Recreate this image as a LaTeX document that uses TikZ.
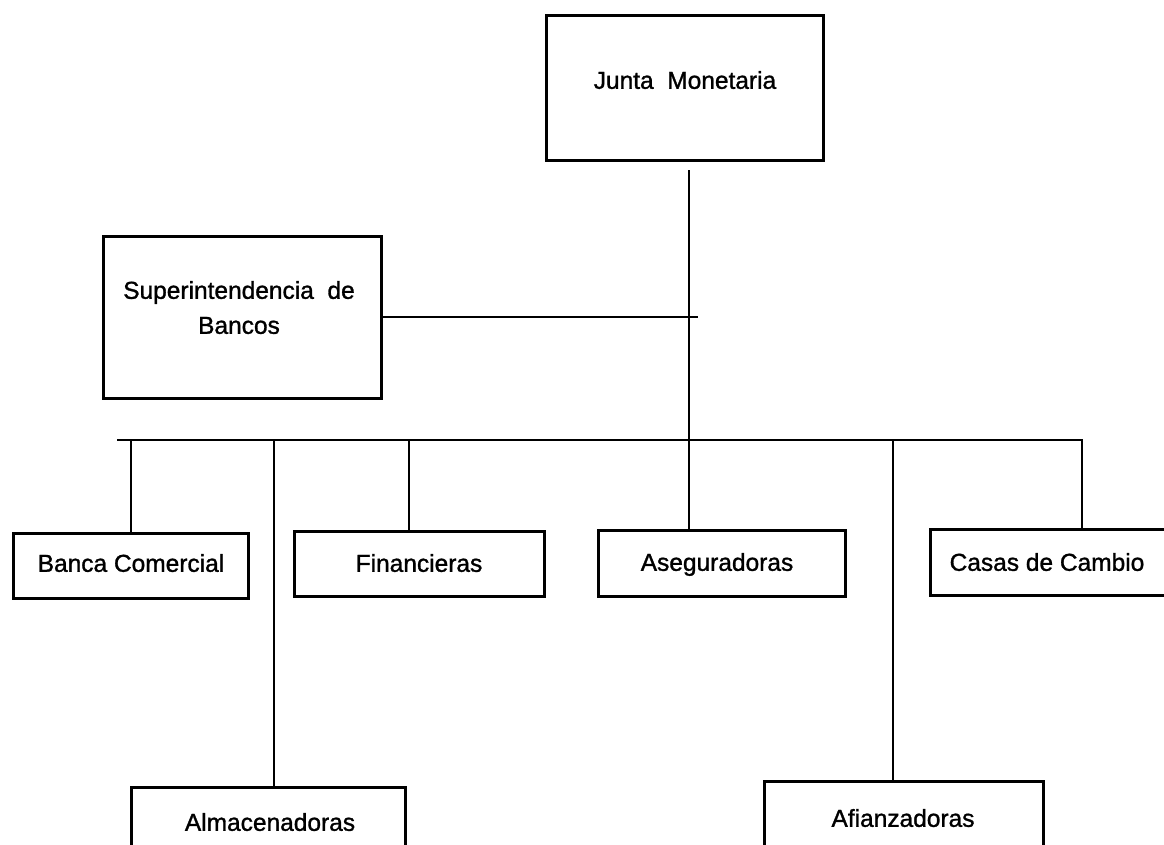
\documentclass[tikz,border=0pt]{standalone}
\usepackage{fontspec}
\setmainfont{Liberation Sans}[BoldFont=Liberation Sans, BoldFeatures={FakeBold=1.2}]
\begin{document}
\begin{tikzpicture}[x=1pt,y=-1pt,
  box/.style={draw=black, line width=3pt, rectangle, inner sep=0pt, fill=white},
  txt/.style={font=\fontsize{24.5}{35}\selectfont\bfseries, inner sep=0pt, text height=17.6pt, text depth=0pt, align=center},
  conn/.style={draw=black, line width=1.2pt}]
\useasboundingbox (0,0) rectangle (1164,844);
\fill[white] (0,0) rectangle (1164,844);
\clip (0,0) rectangle (1164,844);
% boxes
\node[box, minimum width=277pt, minimum height=145pt] (junta) at (685,88) {};
\node[box, minimum width=278pt, minimum height=162pt] (super) at (242.5,317.5) {};
\node[box, minimum width=235pt, minimum height=65pt] (banca) at (131,566) {};
\node[box, minimum width=250pt, minimum height=65pt] (finan) at (419.5,564) {};
\node[box, minimum width=247pt, minimum height=66pt] (aseg) at (722,563.5) {};
\node[box, minimum width=243pt, minimum height=66pt] (casas) at (1052,562.5) {};
\node[box, minimum width=274pt, minimum height=140pt] (alm) at (268.5,857.5) {};
\node[box, minimum width=279pt, minimum height=140pt] (afian) at (904,851.5) {};
% texts
\node[txt] (juntaT) at (685,80) {Junta\ \ Monetaria};
\node[txt] (superT) at (239,290) {Superintendencia\ \ de};
\node[txt] (superT2) at (239,325) {Bancos};
\node[txt] (bancaT) at (131,563) {Banca Comercial};
\node[txt] (finanT) at (419,563) {Financieras};
\node[txt] (asegT) at (717,562) {Aseguradoras};
\node[txt] (casasT) at (1047,562) {Casas de Cambio};
\node[txt] (almT) at (270,822) {Almacenadoras};
\node[txt] (afianT) at (903,818) {Afianzadoras};
% connectors
\coordinate (jbot) at (689,170);
\coordinate (supR) at (698,317);
\coordinate (busL) at (117,440);
\coordinate (busR) at (1082,440);
\coordinate (d1) at (131,440);
\coordinate (d2) at (274,440);
\coordinate (d3) at (409,440);
\coordinate (d5) at (893,440);
\draw[conn] (jbot) -- (jbot |- aseg.north);
\draw[conn] (super.east |- supR) -- (supR);
\draw[conn] (busL) -- (busR) -- (busR |- casas.north);
\draw[conn] (d1) -- (d1 |- banca.north);
\draw[conn] (d2) -- (d2 |- alm.north);
\draw[conn] (d3) -- (d3 |- finan.north);
\draw[conn] (d5) -- (d5 |- afian.north);
\end{tikzpicture}
\end{document}
